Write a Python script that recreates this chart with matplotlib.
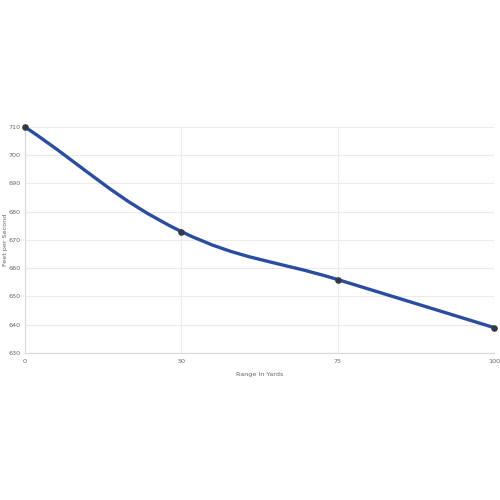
import numpy as np
import matplotlib
matplotlib.use("Agg")
import matplotlib.pyplot as plt
from matplotlib.path import Path
from matplotlib.patches import PathPatch

# data
ranges = ["0", "50", "75", "100"]
fps = [710, 673, 656, 639]

fig = plt.figure(figsize=(5, 5), dpi=100)
ax = fig.add_axes([0.05, 0.294, 0.938, 0.452])

xs = np.arange(len(ranges), dtype=float)
ys = np.array(fps, dtype=float)

ax.set_xlim(0, len(ranges) - 1)
ax.set_ylim(630, 710)

# smooth line like chart.js (tension 0.4), distances in pixel space
sx, sy = 156.0, 2.825
px, py = xs * sx, ys * sy
t = 0.4
cps = []
for i in range(len(xs)):
    p0 = max(i - 1, 0)
    p2 = min(i + 1, len(xs) - 1)
    d01 = np.hypot(px[i] - px[p0], py[i] - py[p0])
    d12 = np.hypot(px[p2] - px[i], py[p2] - py[i])
    tot = d01 + d12
    s01 = d01 / tot if tot else 0
    s12 = d12 / tot if tot else 0
    dx, dy = xs[p2] - xs[p0], ys[p2] - ys[p0]
    prev_cp = (xs[i] - t * s01 * dx, ys[i] - t * s01 * dy)
    next_cp = (xs[i] + t * s12 * dx, ys[i] + t * s12 * dy)
    cps.append((prev_cp, next_cp))

verts = [(xs[0], ys[0])]
codes = [Path.MOVETO]
for i in range(1, len(xs)):
    verts += [cps[i - 1][1], cps[i][0], (xs[i], ys[i])]
    codes += [Path.CURVE4] * 3
patch = PathPatch(Path(verts, codes), facecolor="none", edgecolor="#2b4da0",
                  lw=2.4, capstyle="round", joinstyle="round", clip_on=False, zorder=3)
ax.add_patch(patch)
ax.scatter(xs, ys, s=14, color="#333a45", zorder=4, clip_on=False)

ax.set_xticks(xs)
ax.set_xticklabels(ranges)
ax.set_yticks(np.arange(630, 711, 10))
ax.tick_params(labelsize=4.6, colors="#666666", length=0, pad=4)
ax.tick_params(axis="y", pad=3)
ax.grid(True, color="#ebebeb", lw=0.8)
ax.set_axisbelow(True)
for s in ["top", "right"]:
    ax.spines[s].set_visible(False)
for s in ["left", "bottom"]:
    ax.spines[s].set_color("#d9d9d9")
    ax.spines[s].set_linewidth(0.8)

ax.set_xlabel("Range In Yards", fontsize=4.6, color="#666666", labelpad=6)
ax.set_ylabel("Feet per Second", fontsize=4.6, color="#666666")
ax.yaxis.set_label_coords(-0.036, 0.5)

fig.savefig("out.png", dpi=100, facecolor="white")
